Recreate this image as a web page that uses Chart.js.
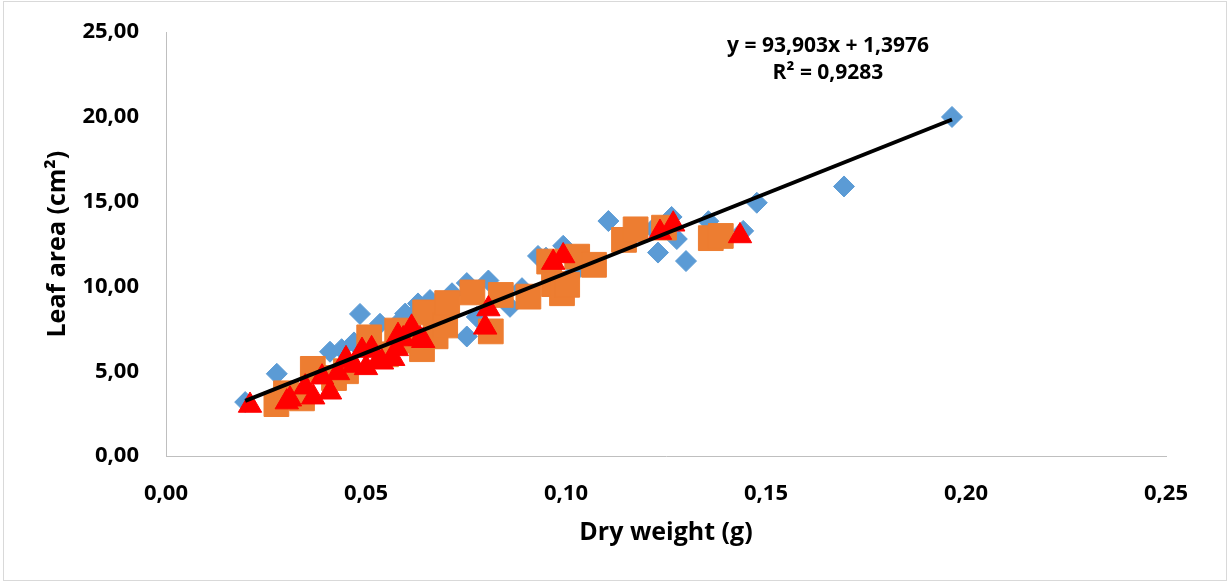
<!DOCTYPE html>
<html lang="en">
<head>
<meta charset="UTF-8">
<title>Leaf area vs dry weight</title>
<script src="https://cdn.jsdelivr.net/npm/chart.js"></script>
<style>
  html, body { margin: 0; padding: 0; background: #fff; }
  #wrap { position: absolute; left: 0; top: 0; width: 1230px; height: 582px; }
  #frame { position: absolute; left: 3px; top: 1px; width: 1222px; height: 578px; border: 1px solid #d9d9d9; pointer-events: none; }
</style>
</head>
<body>
<div id="wrap"><canvas id="myChart"></canvas></div>
<div id="frame"></div>
<script>
// series 1 (blue diamonds)
var dryWeightA = [0.0198, 0.0277, 0.041, 0.0439, 0.047, 0.0485, 0.0535, 0.059, 0.0598, 0.0614, 0.063, 0.066,
                  0.0715, 0.0752, 0.0752, 0.0777, 0.0806, 0.086, 0.089, 0.093, 0.095, 0.0993, 0.102, 0.1106,
                  0.1218, 0.123, 0.1264, 0.1277, 0.130, 0.1356, 0.1443, 0.1477, 0.1695, 0.1965];
var leafAreaA  = [3.18, 4.85, 6.15, 6.3, 6.7, 8.38, 7.8, 8.08, 8.4, 8.2, 9.0, 9.2,
                  9.6, 7.05, 10.2, 8.2, 10.35, 8.8, 9.9, 11.8, 11.7, 12.4, 10.8, 13.86,
                  13.4, 12.0, 14.1, 12.8, 11.5, 13.85, 13.28, 14.94, 15.9, 20.0];

// series 2 (orange squares)
var dryWeightB = [0.0276, 0.030, 0.034, 0.0367, 0.042, 0.045, 0.0508, 0.055, 0.0578, 0.0615, 0.064, 0.0648,
                  0.0674, 0.0698, 0.0703, 0.0766, 0.0812, 0.0837, 0.0906, 0.0958, 0.097, 0.099, 0.1003,
                  0.1028, 0.107, 0.1145, 0.1174, 0.1245, 0.1362, 0.1387];
var leafAreaB  = [3.06, 3.7, 3.4, 5.14, 4.6, 5.0, 7.0, 6.0, 7.4, 6.8, 6.3, 8.47,
                  7.06, 7.7, 9.02, 9.65, 7.35, 9.5, 9.4, 11.47, 10.14, 9.6, 10.1,
                  11.76, 11.28, 12.75, 13.37, 13.47, 12.85, 12.98];

// series 3 (red triangles)
var dryWeightC = [0.021, 0.0302, 0.031, 0.0348, 0.0368, 0.039, 0.041, 0.043, 0.0448, 0.045, 0.047, 0.049,
                  0.050, 0.0514, 0.053, 0.054, 0.0568, 0.0577, 0.058, 0.0593, 0.0614, 0.0635, 0.0643,
                  0.0798, 0.0806, 0.0968, 0.0993, 0.1235, 0.1268, 0.1435];
var leafAreaC  = [2.98, 3.18, 3.35, 4.06, 3.47, 4.65, 3.76, 4.9, 5.63, 5.73, 5.34, 6.22,
                  5.2, 6.32, 5.6, 5.53, 5.74, 6.32, 7.1, 6.9, 7.59, 6.92, 6.8,
                  7.59, 8.67, 11.41, 11.8, 13.18, 13.67, 12.98];

// linear trendline as printed on the chart
var trendSlope = 93.903;
var trendIntercept = 1.3976;
var trendRange = [0.0198, 0.1965];
var equationLines = ['y = 93,903x + 1,3976', 'R\u00b2 = 0,9283'];

var xTicks = [0, 0.05, 0.10, 0.15, 0.20, 0.25];
var yTicks = [0, 5, 10, 15, 20, 25];

function toPoints(xs, ys) {
  return xs.map(function (x, i) { return { x: x, y: ys[i] }; });
}
function comma(v) { return v.toFixed(2).replace('.', ','); }

var fontFamily = '"Open Sans", Lato, sans-serif';
var tickFont = { family: fontFamily, size: 22, weight: 'bold' };
var titleFont = { family: fontFamily, size: 25, weight: 'bold' };

// equation text next to the trendline
var equationLabel = {
  id: 'equationLabel',
  afterDatasetsDraw: function (chart) {
    var ctx = chart.ctx;
    ctx.save();
    ctx.font = 'bold 21px ' + fontFamily;
    ctx.fillStyle = '#000';
    ctx.textAlign = 'center';
    ctx.textBaseline = 'middle';
    ctx.fillText(equationLines[0], 828, 46);
    ctx.fillText(equationLines[1], 828, 73);
    ctx.restore();
  }
};

var ctx = document.getElementById('myChart').getContext('2d');
var myChart = new Chart(ctx, {
  type: 'scatter',
  data: {
    datasets: [
      {
        type: 'line',
        label: 'Linear',
        order: 0,
        data: trendRange.map(function (x) { return { x: x, y: trendSlope * x + trendIntercept }; }),
        borderColor: '#000',
        borderWidth: 4,
        pointRadius: 0,
        fill: false
      },
      {
        label: 'C',
        order: 1,
        data: toPoints(dryWeightC, leafAreaC),
        pointStyle: 'triangle',
        pointRadius: 13.5,
        backgroundColor: '#FF0000',
        borderColor: '#FF0000',
        borderWidth: 1
      },
      {
        label: 'B',
        order: 2,
        data: toPoints(dryWeightB, leafAreaB),
        pointStyle: 'rect',
        pointRadius: 17.5,
        backgroundColor: '#ED7D31',
        borderColor: '#ED7D31',
        borderWidth: 1
      },
      {
        label: 'A',
        order: 3,
        data: toPoints(dryWeightA, leafAreaA),
        pointStyle: 'rectRot',
        pointRadius: 10.5,
        backgroundColor: '#5B9BD5',
        borderColor: '#5B9BD5',
        borderWidth: 1
      }
    ]
  },
  options: {
    responsive: true,
    maintainAspectRatio: false,
    animation: false,
    layout: { padding: { top: 24, right: 64, bottom: 0, left: 0 } },
    plugins: {
      legend: { display: false },
      tooltip: { enabled: false }
    },
    scales: {
      x: {
        type: 'linear',
        min: xTicks[0],
        max: xTicks[xTicks.length - 1],
        afterFit: function (s) { s.height = 126; },
        afterBuildTicks: function (s) { s.ticks = xTicks.map(function (v) { return { value: v }; }); },
        ticks: { callback: function (v) { return comma(v); }, font: tickFont, color: '#000', padding: 17, maxRotation: 0 },
        grid: { display: false },
        border: { display: true, color: '#BFBFBF', width: 1 },
        title: { display: true, text: 'Dry weight (g)', font: titleFont, color: '#000', padding: { top: 0, bottom: 34 } }
      },
      y: {
        type: 'linear',
        min: yTicks[0],
        max: yTicks[yTicks.length - 1],
        afterFit: function (s) { s.width = 166; },
        afterBuildTicks: function (s) { s.ticks = yTicks.map(function (v) { return { value: v }; }); },
        ticks: { callback: function (v) { return comma(v); }, font: tickFont, color: '#000', padding: 19 },
        grid: { display: false },
        border: { display: true, color: '#BFBFBF', width: 1 },
        title: { display: true, text: 'Leaf area (cm\u00b2)', font: titleFont, color: '#000', padding: { top: 43, bottom: 0 } }
      }
    }
  },
  plugins: [equationLabel]
});
</script>
</body>
</html>
